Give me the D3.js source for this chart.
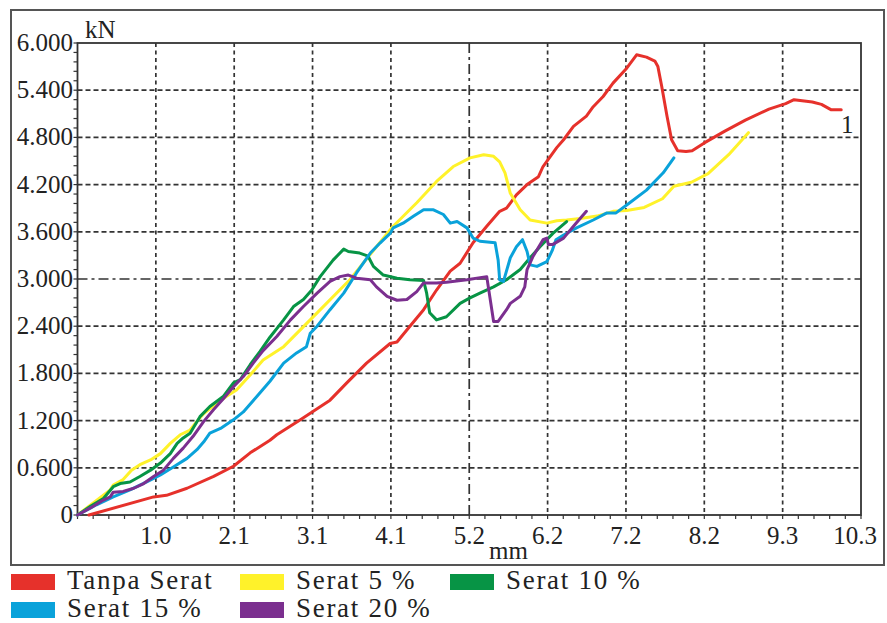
<!DOCTYPE html>
<html>
<head>
<meta charset="utf-8">
<script src="https://cdn.jsdelivr.net/npm/d3@7"></script>
<style>
body { margin: 0; background: #fff; }
text { font-family: "Liberation Serif", "Times New Roman", serif; fill: #222; }
</style>
</head>
<body>
<script>
// displacement (mm) , load (kN)
var tanpaSerat = [[0.15,0],[1.00,0.23],[1.17,0.25],[1.44,0.34],[1.79,0.49],[2.05,0.62],[2.27,0.79],[2.53,0.95],[2.62,1.02],[2.93,1.21],[3.32,1.46],[3.54,1.68],[3.80,1.93],[4.11,2.18],[4.20,2.20],[4.37,2.40],[4.55,2.61],[4.72,2.86],[4.90,3.10],[5.03,3.20],[5.20,3.46],[5.38,3.67],[5.55,3.86],[5.64,3.90],[5.77,4.07],[5.91,4.20],[6.06,4.30],[6.12,4.43],[6.21,4.55],[6.30,4.67],[6.39,4.77],[6.52,4.94],[6.69,5.07],[6.78,5.19],[6.91,5.32],[7.04,5.49],[7.22,5.68],[7.35,5.85],[7.48,5.82],[7.59,5.77],[7.63,5.70],[7.68,5.45],[7.75,5.07],[7.81,4.77],[7.89,4.63],[8.00,4.62],[8.08,4.63],[8.24,4.73],[8.51,4.88],[8.78,5.02],[9.09,5.16],[9.31,5.23],[9.42,5.28],[9.66,5.25],[9.78,5.22],[9.91,5.15],[10.04,5.15]];
var serat5 = [[0,0],[0.43,0.32],[0.47,0.38],[0.60,0.45],[0.71,0.57],[0.82,0.64],[0.96,0.70],[1.09,0.78],[1.22,0.91],[1.35,1.02],[1.48,1.08],[1.57,1.19],[1.66,1.29],[1.83,1.42],[1.96,1.51],[2.09,1.59],[2.27,1.78],[2.44,1.97],[2.71,2.14],[3.15,2.57],[3.58,2.99],[3.93,3.41],[4.15,3.67],[4.46,3.97],[4.72,4.24],[4.94,4.43],[5.16,4.54],[5.34,4.58],[5.47,4.56],[5.55,4.49],[5.62,4.35],[5.69,4.09],[5.82,3.88],[5.95,3.75],[6.17,3.71],[6.30,3.74],[6.43,3.75],[6.61,3.77],[6.83,3.80],[7.04,3.86],[7.22,3.87],[7.45,3.91],[7.69,4.02],[7.84,4.18],[8.07,4.23],[8.29,4.34],[8.56,4.58],[8.82,4.86]];
var serat10 = [[0,0],[0.17,0.11],[0.34,0.21],[0.47,0.36],[0.56,0.40],[0.69,0.42],[0.82,0.49],[0.96,0.57],[1.09,0.66],[1.22,0.78],[1.31,0.91],[1.39,0.98],[1.48,1.04],[1.61,1.25],[1.74,1.38],[1.92,1.51],[2.05,1.68],[2.14,1.72],[2.27,1.91],[2.40,2.08],[2.53,2.26],[2.71,2.48],[2.84,2.65],[2.97,2.74],[3.08,2.86],[3.19,3.03],[3.36,3.24],[3.50,3.38],[3.56,3.35],[3.71,3.33],[3.82,3.29],[3.89,3.16],[4.02,3.05],[4.20,3.01],[4.37,2.99],[4.55,2.98],[4.59,2.82],[4.63,2.57],[4.72,2.48],[4.85,2.52],[5.03,2.69],[5.16,2.76],[5.29,2.82],[5.47,2.90],[5.64,2.99],[5.82,3.12],[5.95,3.27],[6.08,3.41],[6.25,3.58],[6.43,3.73]];
var serat15 = [[0,0],[0.25,0.13],[0.47,0.23],[0.69,0.32],[0.91,0.42],[1.09,0.51],[1.26,0.61],[1.44,0.72],[1.57,0.83],[1.66,0.93],[1.74,1.04],[1.88,1.10],[2.05,1.21],[2.18,1.31],[2.36,1.51],[2.53,1.70],[2.71,1.93],[2.88,2.06],[3.01,2.14],[3.06,2.31],[3.15,2.40],[3.32,2.61],[3.50,2.82],[3.67,3.08],[3.85,3.33],[3.98,3.46],[4.11,3.58],[4.15,3.65],[4.28,3.71],[4.42,3.80],[4.55,3.88],[4.68,3.88],[4.81,3.82],[4.90,3.71],[4.99,3.73],[5.12,3.65],[5.20,3.52],[5.29,3.48],[5.49,3.46],[5.53,3.24],[5.55,2.99],[5.60,2.97],[5.69,3.27],[5.77,3.41],[5.85,3.50],[5.91,3.35],[5.95,3.18],[6.04,3.16],[6.17,3.22],[6.24,3.36],[6.29,3.50],[6.39,3.56],[6.56,3.65],[6.78,3.75],[6.96,3.84],[7.08,3.84],[7.26,3.97],[7.48,4.13],[7.70,4.35],[7.84,4.54]];
var serat20 = [[0,0],[0.17,0.09],[0.34,0.19],[0.43,0.23],[0.47,0.29],[0.60,0.30],[0.74,0.34],[0.87,0.40],[1.00,0.49],[1.13,0.57],[1.26,0.72],[1.39,0.85],[1.52,1.00],[1.66,1.19],[1.79,1.34],[1.92,1.48],[2.05,1.63],[2.18,1.76],[2.31,1.93],[2.44,2.09],[2.62,2.27],[2.80,2.48],[2.97,2.65],[3.15,2.82],[3.32,2.97],[3.45,3.03],[3.56,3.05],[3.67,3.01],[3.85,2.99],[3.93,2.90],[4.07,2.78],[4.20,2.73],[4.33,2.74],[4.46,2.84],[4.55,2.95],[4.72,2.95],[4.85,2.96],[5.12,2.99],[5.38,3.03],[5.47,2.46],[5.53,2.46],[5.64,2.61],[5.69,2.69],[5.82,2.78],[5.88,2.90],[5.91,3.12],[5.99,3.29],[6.12,3.50],[6.17,3.52],[6.19,3.44],[6.25,3.44],[6.39,3.52],[6.52,3.67],[6.69,3.86]];

var seriesNames = ["Tanpa Serat", "Serat 5 %", "Serat 10 %", "Serat 15 %", "Serat 20 %"];
var seriesColors = ["#e6312b", "#fff22a", "#079445", "#0aa2da", "#7b2f8f"];
var seriesData = [tanpaSerat, serat5, serat10, serat15, serat20];

var xTicks = [1.03, 2.06, 3.09, 4.12, 5.15, 6.18, 7.21, 8.24, 9.27, 10.3];
var xTickLabels = ["1.0", "2.1", "3.1", "4.1", "5.2", "6.2", "7.2", "8.2", "9.3", "10.3"];
var yTicks = [0, 0.6, 1.2, 1.8, 2.4, 3.0, 3.6, 4.2, 4.8, 5.4, 6.0];
var yTickLabels = ["0", "0.600", "1.200", "1.800", "2.400", "3.000", "3.600", "4.200", "4.800", "5.400", "6.000"];

var width = 887;
var height = 623;
var svg = d3.select("body")
  .append("svg")
  .attr("width", width)
  .attr("height", height);

var x = d3.scaleLinear().domain([0, 10.3]).range([77.5, 861]);
var y = d3.scaleLinear().domain([0, 6]).range([515, 43]);

// outer frame
svg.append("rect")
  .attr("x", 11).attr("y", 10)
  .attr("width", 873).attr("height", 555)
  .attr("fill", "none")
  .attr("stroke", "#555")
  .attr("stroke-width", 2);

// grid
svg.selectAll(".vgrid")
  .data(xTicks.slice(0, 9))
  .enter().append("line")
  .attr("x1", d => x(d)).attr("x2", d => x(d))
  .attr("y1", y(6)).attr("y2", y(0))
  .attr("stroke", "#333")
  .attr("stroke-width", 1.7)
  .attr("stroke-dasharray", (d, i) => i == 4 ? "10,4,3,4" : "4,3.5");

svg.selectAll(".hgrid")
  .data(yTicks.slice(1, 10))
  .enter().append("line")
  .attr("x1", x(0)).attr("x2", x(10.3))
  .attr("y1", d => y(d)).attr("y2", d => y(d))
  .attr("stroke", "#333")
  .attr("stroke-width", 1.7)
  .attr("stroke-dasharray", (d, i) => i == 4 ? "10,4,3,4" : "5,3");

// minor ticks
var xMinor = d3.range(0, 51).map(i => i * 0.206);
svg.selectAll(".xminor")
  .data(xMinor)
  .enter().append("line")
  .attr("x1", d => x(d)).attr("x2", d => x(d))
  .attr("y1", y(0)).attr("y2", y(0) + 4)
  .attr("stroke", "#333")
  .attr("stroke-width", 1.2);

var yMinor = d3.range(0, 51).map(i => i * 0.12);
svg.selectAll(".yminor")
  .data(yMinor)
  .enter().append("line")
  .attr("x1", x(0) - 4).attr("x2", x(0))
  .attr("y1", d => y(d)).attr("y2", d => y(d))
  .attr("stroke", "#333")
  .attr("stroke-width", 1.2);

// plot border
svg.append("rect")
  .attr("x", x(0)).attr("y", y(6))
  .attr("width", x(10.3) - x(0)).attr("height", y(0) - y(6))
  .attr("fill", "none")
  .attr("stroke", "#333")
  .attr("stroke-width", 1.8);

// tick labels
svg.selectAll(".xlab")
  .data(xTicks)
  .enter().append("text")
  .attr("x", (d, i) => x(d) - (i == 9 ? 6 : 0))
  .attr("y", 544)
  .attr("text-anchor", "middle")
  .style("font-size", "25px")
  .text((d, i) => xTickLabels[i]);

svg.selectAll(".ylab")
  .data(yTicks)
  .enter().append("text")
  .attr("x", 73)
  .attr("y", d => y(d) + 8)
  .attr("text-anchor", "end")
  .style("font-size", "25px")
  .text((d, i) => yTickLabels[i]);

svg.append("text").attr("x", 85).attr("y", 38)
  .style("font-size", "25px").text("kN");
svg.append("text").attr("x", 489).attr("y", 559)
  .style("font-size", "25px").text("mm");

// curves
var line = d3.line()
  .x(d => x(d[0]))
  .y(d => y(d[1]));

svg.selectAll(".curve")
  .data(seriesData)
  .enter().append("path")
  .attr("d", line)
  .attr("fill", "none")
  .attr("stroke", (d, i) => seriesColors[i])
  .attr("stroke-width", 3)
  .attr("stroke-linejoin", "round")
  .attr("stroke-linecap", "round");

svg.append("text").attr("x", 841).attr("y", 133)
  .style("font-size", "25px").text("1");

// legend
var legPos = [[11, 574], [240, 574], [450, 574], [11, 602], [240, 602]];
var leg = svg.selectAll(".leg")
  .data(seriesNames)
  .enter().append("g")
  .attr("transform", (d, i) => "translate(" + legPos[i][0] + "," + legPos[i][1] + ")");

leg.append("rect")
  .attr("width", 44).attr("height", 16)
  .attr("fill", (d, i) => seriesColors[i]);

leg.append("text")
  .attr("x", 56).attr("y", 15)
  .style("font-size", "27px")
  .style("letter-spacing", "1.7px")
  .text(d => d);
</script>
</body>
</html>
